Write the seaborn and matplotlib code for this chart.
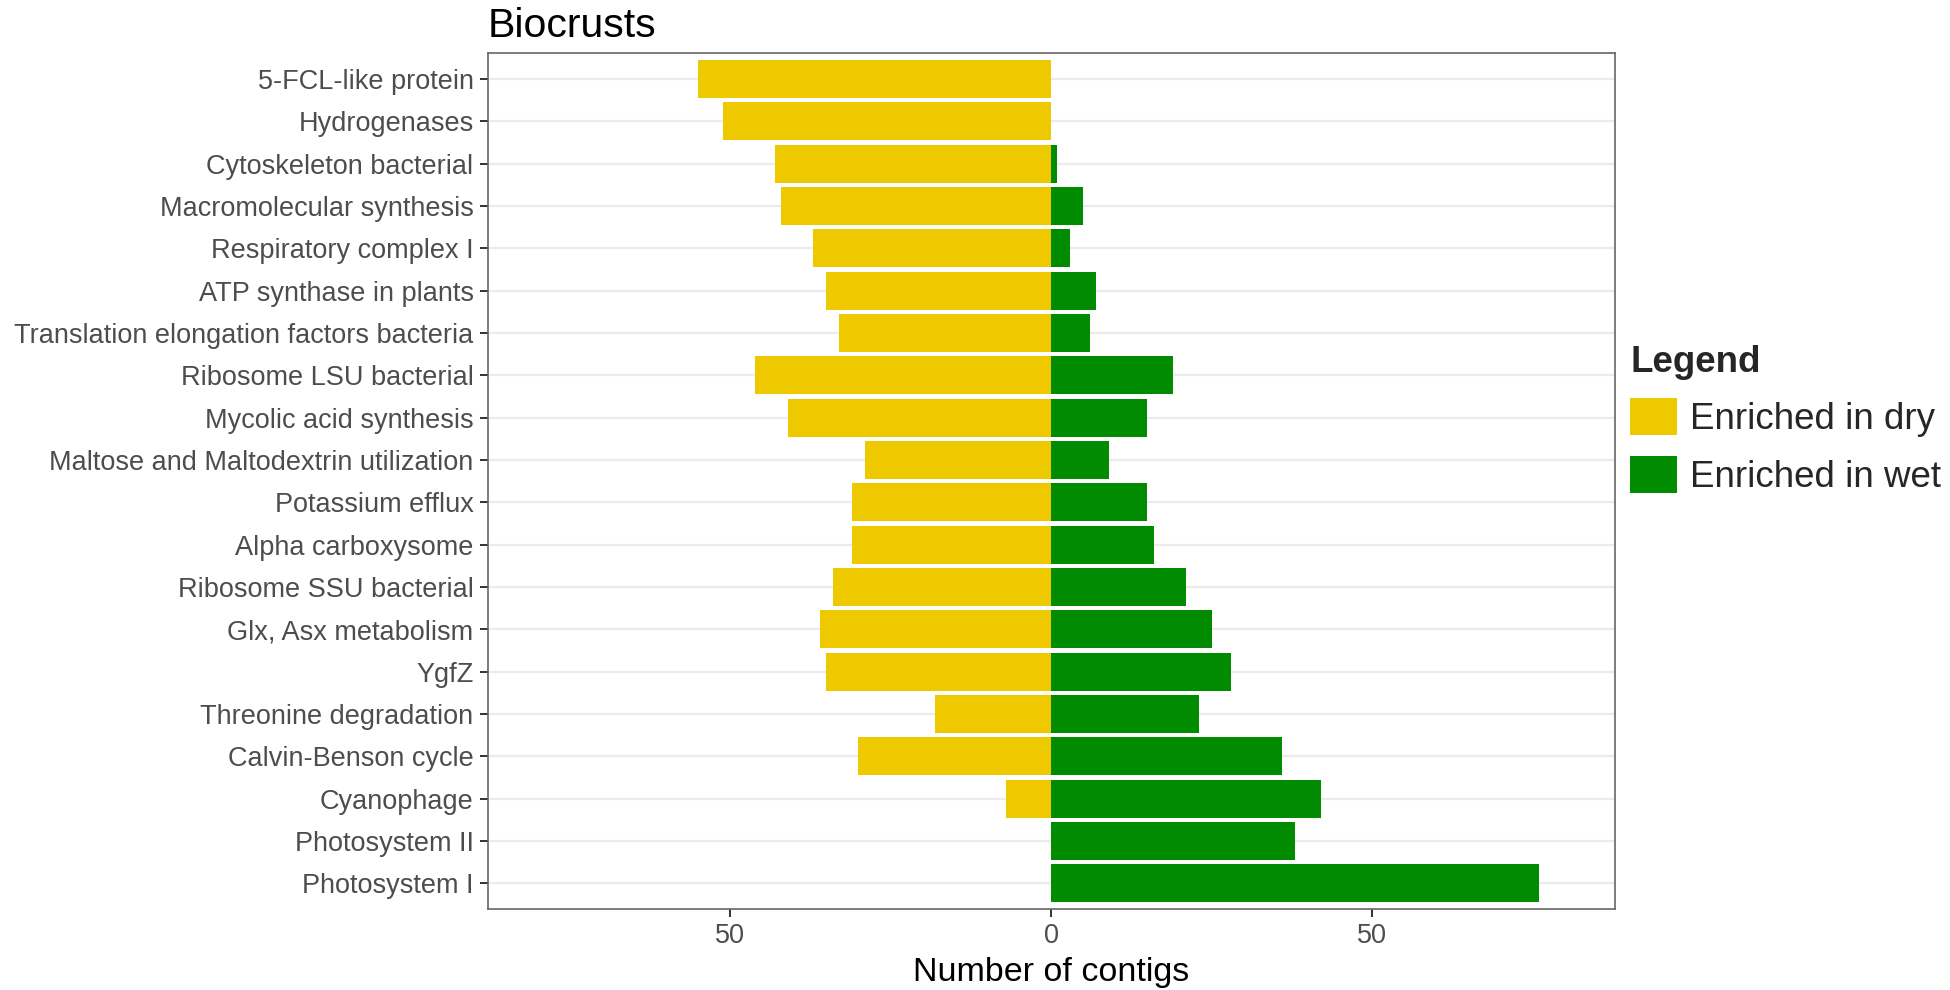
import matplotlib
matplotlib.use("Agg")
import matplotlib.pyplot as plt
import seaborn as sns
import pandas as pd
from matplotlib.patches import Patch

categories = [
    "5-FCL-like protein", "Hydrogenases", "Cytoskeleton bacterial",
    "Macromolecular synthesis", "Respiratory complex I", "ATP synthase in plants",
    "Translation elongation factors bacteria", "Ribosome LSU bacterial",
    "Mycolic acid synthesis", "Maltose and Maltodextrin utilization",
    "Potassium efflux", "Alpha carboxysome", "Ribosome SSU bacterial",
    "Glx, Asx metabolism", "YgfZ", "Threonine degradation",
    "Calvin-Benson cycle", "Cyanophage", "Photosystem II", "Photosystem I",
]
dry_counts = [55, 51, 43, 42, 37, 35, 33, 46, 41, 29, 31, 31, 34, 36, 35, 18, 30, 7, 0, 0]
wet_counts = [0, 0, 1, 5, 3, 7, 6, 19, 15, 9, 15, 16, 21, 25, 28, 23, 36, 42, 38, 76]
groups = ["Enriched in dry", "Enriched in wet"]
colors = {"Enriched in dry": "#EEC900", "Enriched in wet": "#008B00"}

# long table: dry counts go to the left (negative)
df = pd.concat([
    pd.DataFrame({"category": categories, "count": [-v for v in dry_counts], "group": groups[0]}),
    pd.DataFrame({"category": categories, "count": wet_counts, "group": groups[1]}),
], ignore_index=True)

sns.set_theme(style="white")
plt.rcParams["font.family"] = ["Liberation Sans", "DejaVu Sans"]

fig, ax = plt.subplots(figsize=(19.5, 9.9), dpi=100)
fig.subplots_adjust(left=0.250, right=0.828, top=0.946, bottom=0.082)

sns.barplot(data=df, x="count", y="category", hue="group", order=categories,
            hue_order=groups, palette=colors, dodge=False, width=0.9,
            saturation=1, linewidth=0, legend=False, ax=ax)

ax.set_xlim(-87.7, 87.7)
ax.set_ylim(len(categories) - 0.4, -0.6)
ax.set_xticks([-50, 0, 50])
ax.set_xticklabels(["50", "0", "50"])

ax.set_axisbelow(True)
ax.yaxis.grid(True, color="#EBEBEB", linewidth=1.6)
ax.xaxis.grid(False)
for s in ax.spines.values():
    s.set_color("#666666")
    s.set_linewidth(1.2)

ax.tick_params(axis="both", which="major", length=6, width=1.4, color="#333333",
               labelsize=19.5, labelcolor="#4D4D4D", pad=4, left=True, bottom=True)
ax.set_xlabel("Number of contigs", fontsize=24.5, color="black", labelpad=6)
ax.set_ylabel("")
ax.set_title("Biocrusts", loc="left", fontsize=29.5, color="black", pad=12)

handles = [Patch(facecolor=colors[g], edgecolor="none", label=g) for g in groups]
leg = fig.legend(handles=handles, title="Legend", loc="upper left",
                 bbox_to_anchor=(0.836, 0.652), frameon=False, fontsize=26.5,
                 title_fontproperties={"weight": "bold", "size": 26.5},
                 handlelength=1.27, handleheight=1.16, handletextpad=0.35,
                 labelspacing=0.51, borderpad=0, borderaxespad=0, alignment="left")

fig.savefig("out.png", dpi=100)
